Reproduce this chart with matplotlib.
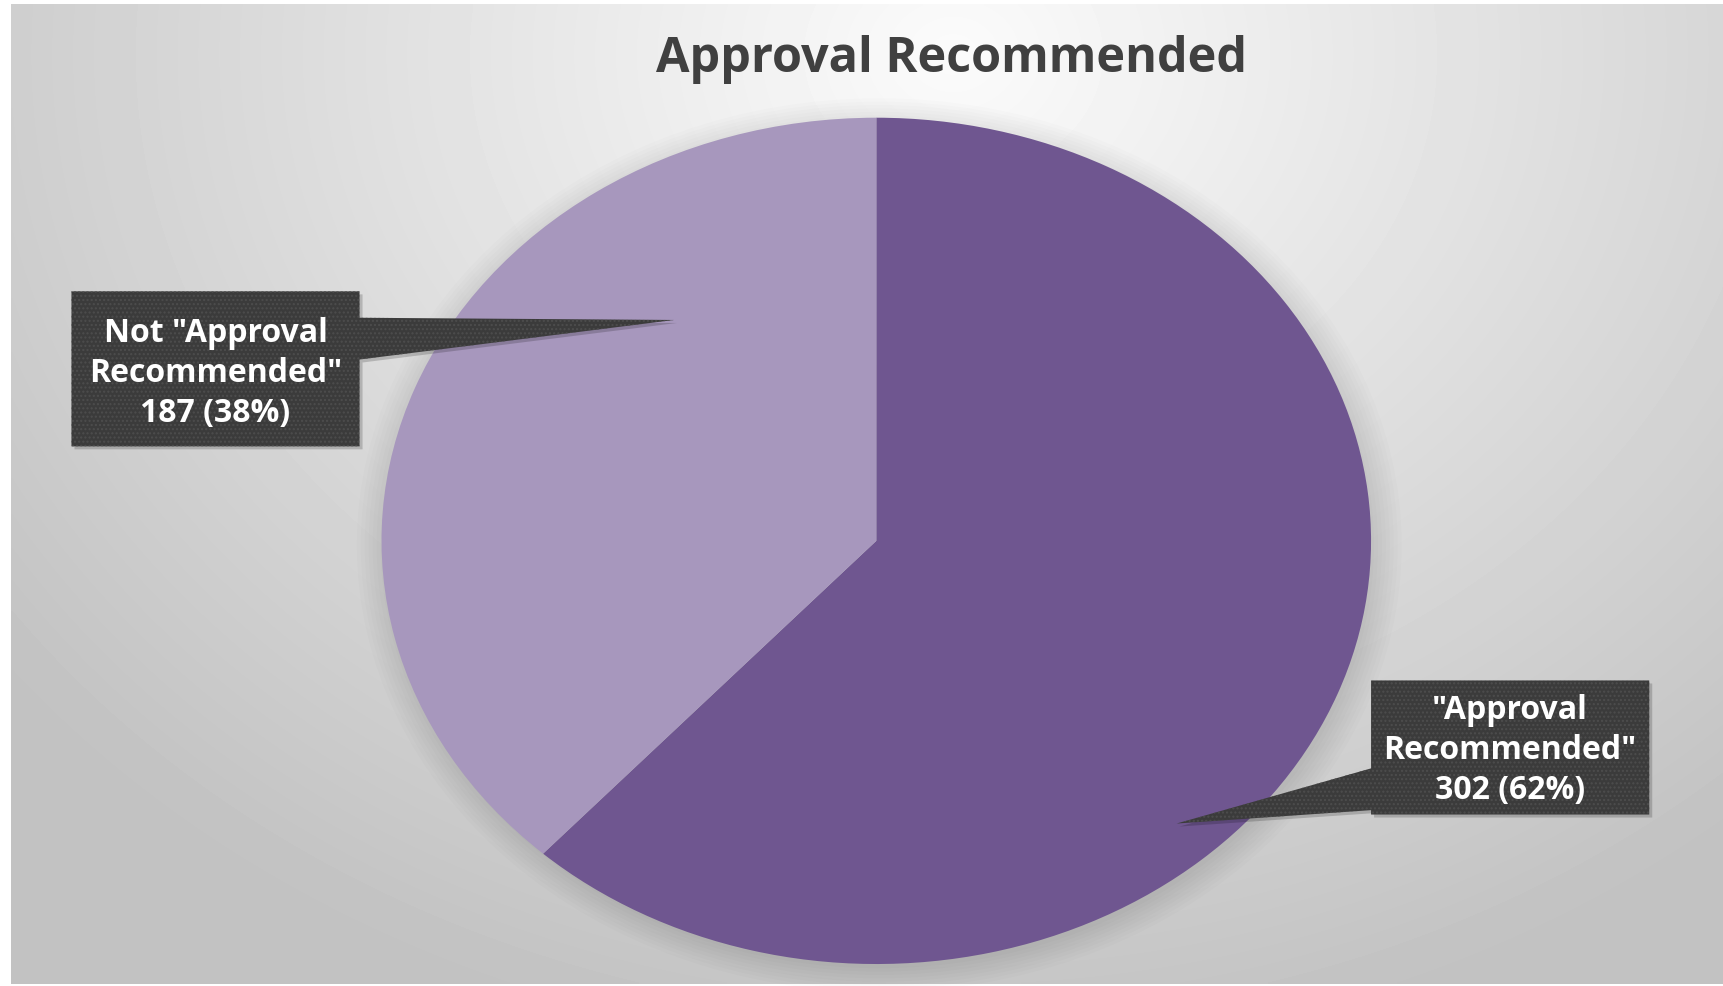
import matplotlib.pyplot as plt
import numpy as np
from matplotlib.patches import Polygon, Ellipse

# data
title = 'Approval Recommended'
label_names = ['"Approval\nRecommended"', 'Not "Approval\nRecommended"']
counts = [302, 187]
slice_colors = ['#6f5690', '#a797bd']

plt.rcParams['font.family'] = ['Open Sans', 'DejaVu Sans']

W, H = 1568.0, 898.0  # reference layout grid


def fx(x):
    return x / W


def fy(y):
    return 1 - y / H


fig = plt.figure(figsize=(17.24, 9.87), dpi=100)
fig.patch.set_facecolor('white')

# radial grey background
bg = fig.add_axes([fx(10), 2 / H, 1 - fx(10), 1 - 7 / H])
yy, xx = np.mgrid[0:1:300j, 0:1:500j]
r = np.sqrt(((xx - 0.55) / 0.75) ** 2 + ((yy - 0.05) / 1.1) ** 2)
shade = np.clip(0.985 - 0.24 * r, 0.76, 1)
bg.imshow(shade, cmap='gray', vmin=0, vmax=1, aspect='auto', interpolation='bilinear')
bg.axis('off')

# pie (elliptical, as in the reference)
cx, cy = fx(797), fy(493)
rx, ry = 450 / W, 385 / H
ax = fig.add_axes([cx - rx, cy - ry, 2 * rx, 2 * ry])
for i in range(8):
    s = 1 + 0.008 * i
    ax.add_patch(Ellipse((0.006, -0.01), 2 * s, 2 * s, color='black', alpha=0.012, lw=0, clip_on=False))
wedges, _ = ax.pie(counts, colors=slice_colors, startangle=90, counterclock=False, radius=1,
                   wedgeprops=dict(linewidth=0))
ax.set_aspect('auto')
ax.set_xlim(-1, 1)
ax.set_ylim(-1, 1)
ax.axis('off')

# labels text from data
total = sum(counts)
labels = ['%s\n%d (%d%%)' % (n, c, round(100 * c / total)) for n, c in zip(label_names, counts)]

# callout tips, in pie data coords
tips = [(0.607, -0.668), (-0.409, 0.522)]


def tip_fig(t):
    return (cx + t[0] * rx, cy + t[1] * ry)


# callout shapes in reference pixels (tip inserted)
t0 = tip_fig(tips[0])
t1 = tip_fig(tips[1])
shape0 = [(fx(1247), fy(620)), (fx(1500), fy(620)), (fx(1500), fy(742)), (fx(1247), fy(742)),
          (fx(1247), fy(738)), t0, (fx(1247), fy(700))]
shape1 = [(fx(65), fy(266)), (fx(327), fy(266)), (fx(327), fy(290)), t1,
          (fx(327), fy(328)), (fx(327), fy(407)), (fx(65), fy(407))]
text_pos = [(fx(1373), fy(683)), (fx(196), fy(340))]

for shape, lab, pos in zip([shape0, shape1], labels, text_pos):
    sh = [(x + 3 / 1724, y - 3 / 987) for x, y in shape]
    fig.patches.append(Polygon(sh, closed=True, transform=fig.transFigure,
                               facecolor='#000000', alpha=0.18, lw=0))
    fig.patches.append(Polygon(shape, closed=True, transform=fig.transFigure,
                               facecolor='#3b3b3b', edgecolor='#4d4d4d', hatch='....', lw=0))
    fig.text(pos[0], pos[1], lab, ha='center', va='center', color='white',
             fontsize=23, fontweight='bold', linespacing=1.28)

fig.text(fx(865), fy(54), title, ha='center', va='center', fontsize=35,
         fontweight='bold', color='#404040')

fig.savefig('out.png', dpi=100)
